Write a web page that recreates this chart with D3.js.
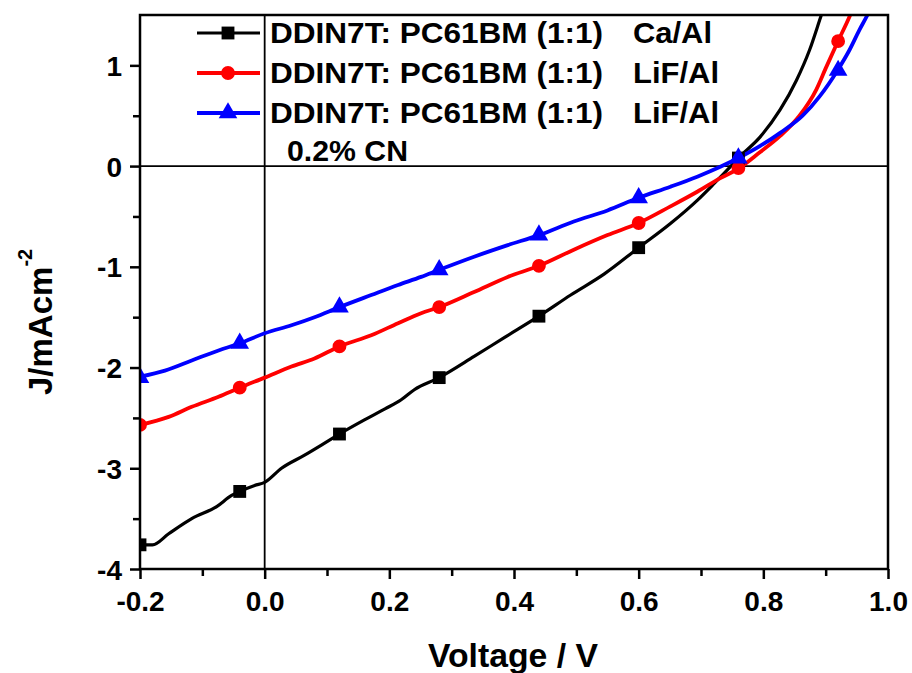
<!DOCTYPE html>
<html><head><meta charset="utf-8">
<script src="https://cdn.jsdelivr.net/npm/d3@7"></script>
<style>body{margin:0;background:#fff}svg text{font-family:"Liberation Sans",Arial,sans-serif;font-weight:bold}</style>
</head><body><svg id="c" width="912" height="673"></svg>
<script>
const seriesNames = ["DDIN7T: PC61BM (1:1)", "DDIN7T: PC61BM (1:1)", "DDIN7T: PC61BM (1:1)"];
const seriesSuffix = ["Ca/Al", "LiF/Al", "LiF/Al"];
const extraNote = "0.2% CN";
const colors = ["#000000", "#ff0000", "#0000ff"];

const blackV = [-0.2,-0.18,-0.154,-0.117,-0.077,-0.053,-0.04,-0.016,0.0,0.027,0.064,0.091,0.12,0.16,0.193,0.219,0.24,0.28,0.336,0.385,0.44,0.491,0.545,0.6,0.651,0.694,0.72,0.748,0.76,0.795,0.827,0.853,0.874,0.892,0.905];
const blackJ = [-3.76,-3.76,-3.65,-3.50,-3.38,-3.27,-3.23,-3.17,-3.14,-3.00,-2.87,-2.77,-2.66,-2.52,-2.41,-2.32,-2.22,-2.10,-1.89,-1.70,-1.49,-1.28,-1.07,-0.81,-0.57,-0.34,-0.18,0.0,0.08,0.29,0.56,0.85,1.15,1.48,1.72];
const redV = [-0.2,-0.154,-0.117,-0.074,-0.04,0.0,0.043,0.08,0.12,0.171,0.214,0.251,0.28,0.336,0.39,0.44,0.496,0.55,0.6,0.651,0.694,0.731,0.76,0.795,0.827,0.858,0.885,0.9,0.919,0.938,0.952];
const redJ = [-2.57,-2.49,-2.39,-2.29,-2.20,-2.10,-1.99,-1.91,-1.79,-1.68,-1.56,-1.46,-1.40,-1.25,-1.10,-0.99,-0.83,-0.685,-0.565,-0.40,-0.255,-0.12,-0.025,0.14,0.30,0.50,0.76,0.97,1.23,1.48,1.70];
const blueV = [-0.2,-0.16,-0.117,-0.074,-0.04,0.0,0.043,0.08,0.12,0.171,0.214,0.251,0.28,0.336,0.39,0.44,0.496,0.55,0.6,0.651,0.694,0.731,0.76,0.795,0.827,0.863,0.89,0.919,0.938,0.954,0.967,0.98];
const blueJ = [-2.09,-2.03,-1.93,-1.83,-1.76,-1.66,-1.58,-1.50,-1.40,-1.28,-1.18,-1.10,-1.03,-0.90,-0.785,-0.685,-0.55,-0.44,-0.315,-0.205,-0.105,-0.007,0.08,0.20,0.33,0.50,0.69,0.95,1.15,1.35,1.50,1.68];

const markerV = [-0.2,-0.04,0.12,0.28,0.44,0.6,0.76,0.92];
const blackMarkJ = [-3.76,-3.23,-2.66,-2.10,-1.49,-0.81,0.08,null];
const redMarkJ = [-2.57,-2.20,-1.79,-1.40,-0.99,-0.565,-0.02,1.24];
const blueMarkJ = [-2.10,-1.76,-1.40,-1.03,-0.685,-0.315,0.08,0.95];

const xTicks = [-0.2,0.0,0.2,0.4,0.6,0.8,1.0];
const xMinor = [-0.1,0.1,0.3,0.5,0.7,0.9];
const yTicks = [-4,-3,-2,-1,0,1];
const yMinor = [-3.5,-2.5,-1.5,-0.5,0.5];
const xTitle = "Voltage / V";

const svg = d3.select("#c");
const L=140,R=888,T=15,B=569;
const x = d3.scaleLinear().domain([-0.2,1.0]).range([L,R]);
const y = d3.scaleLinear().domain([-4,1.5]).range([B,T]);

svg.append("defs").append("clipPath").attr("id","clip").append("rect")
  .attr("x",L).attr("y",T).attr("width",R-L).attr("height",B-T);

// zero lines
svg.append("line").attr("x1",L).attr("x2",R).attr("y1",y(0)).attr("y2",y(0)).attr("stroke","#000").attr("stroke-width",1.8);
svg.append("line").attr("x1",x(0)).attr("x2",x(0)).attr("y1",T).attr("y2",B).attr("stroke","#000").attr("stroke-width",1.8);

const series = [
  {V:blackV,J:blackJ,M:blackMarkJ,c:colors[0],w:3.2,shape:"square"},
  {V:redV,J:redJ,M:redMarkJ,c:colors[1],w:3.8,shape:"circle"},
  {V:blueV,J:blueJ,M:blueMarkJ,c:colors[2],w:3.8,shape:"triangle"}
];
const line = d3.line().x(d=>x(d[0])).y(d=>y(d[1])).curve(d3.curveMonotoneX);
const g = svg.append("g").attr("clip-path","url(#clip)");
const symbolOf = s => s==="square"? d3.symbol(d3.symbolSquare,165) : s==="circle"? d3.symbol(d3.symbolCircle,150) : d3.symbol(d3.symbolTriangle,150);

series.forEach(s=>{
  g.append("path").datum(s.V.map((v,i)=>[v,s.J[i]])).attr("d",line)
   .attr("fill","none").attr("stroke",s.c).attr("stroke-width",s.w).attr("stroke-linejoin","round");
});
series.forEach(s=>{
  const pts = markerV.map((v,i)=>[v,s.M[i]]).filter(d=>d[1]!==null);
  g.selectAll(null).data(pts).enter().append("path")
   .attr("d",symbolOf(s.shape)).attr("fill",s.c)
   .attr("transform",d=>`translate(${x(d[0])},${y(d[1])})`);
});

// frame
svg.append("rect").attr("x",L).attr("y",T).attr("width",R-L).attr("height",B-T)
  .attr("fill","none").attr("stroke","#000").attr("stroke-width",2.5);

// axes
const fmtX = d => (d<0?"-":"") + Math.abs(d).toFixed(1);
const xa = svg.append("g").attr("transform",`translate(0,${B})`)
  .call(d3.axisBottom(x).tickValues(xTicks).tickSize(10).tickFormat(fmtX));
const xm = svg.append("g").attr("transform",`translate(0,${B})`)
  .call(d3.axisBottom(x).tickValues(xMinor).tickSize(7).tickFormat(""));
const ya = svg.append("g").attr("transform",`translate(${L},0)`)
  .call(d3.axisLeft(y).tickValues(yTicks).tickSize(10).tickFormat(d=>(d<0?"-":"")+Math.abs(d)));
const ym = svg.append("g").attr("transform",`translate(${L},0)`)
  .call(d3.axisLeft(y).tickValues(yMinor).tickSize(7).tickFormat(""));
[xa,xm,ya,ym].forEach(a=>{a.select(".domain").remove(); a.selectAll("line").attr("stroke-width",2.5);});
xa.selectAll("text").attr("font-size",28).attr("fill","#000").attr("dy",null).attr("y",42);
ya.selectAll("text").attr("font-size",28).attr("fill","#000").attr("x",-18).attr("dy","0.36em");

svg.append("text").attr("x",513).attr("y",667).attr("text-anchor","middle").attr("font-size",33)
  .attr("textLength",170).attr("lengthAdjust","spacingAndGlyphs").text(xTitle);
const yt = svg.append("text").attr("transform","translate(52,395) rotate(-90)").attr("font-size",33);
yt.append("tspan").text("J/mAcm");
yt.append("tspan").attr("font-size",20).attr("dy",-20).text("-2");

// legend
const rowsY = [33,73,113];
series.forEach((s,i)=>{
  svg.append("line").attr("x1",197).attr("x2",260).attr("y1",rowsY[i]).attr("y2",rowsY[i]).attr("stroke",s.c).attr("stroke-width",s.w);
  svg.append("path").attr("d",symbolOf(s.shape)).attr("fill",s.c).attr("transform",`translate(228,${rowsY[i]})`);
  svg.append("text").attr("x",270).attr("y",rowsY[i]+10).attr("font-size",30)
    .attr("textLength",333).attr("lengthAdjust","spacingAndGlyphs").text(seriesNames[i]);
  svg.append("text").attr("x",633).attr("y",rowsY[i]+10).attr("font-size",30)
    .attr("textLength",i===0?79:86).attr("lengthAdjust","spacingAndGlyphs").text(seriesSuffix[i]);
});
svg.append("text").attr("x",287).attr("y",161).attr("font-size",30)
  .attr("textLength",121).attr("lengthAdjust","spacingAndGlyphs").text(extraNote);
</script></body></html>
